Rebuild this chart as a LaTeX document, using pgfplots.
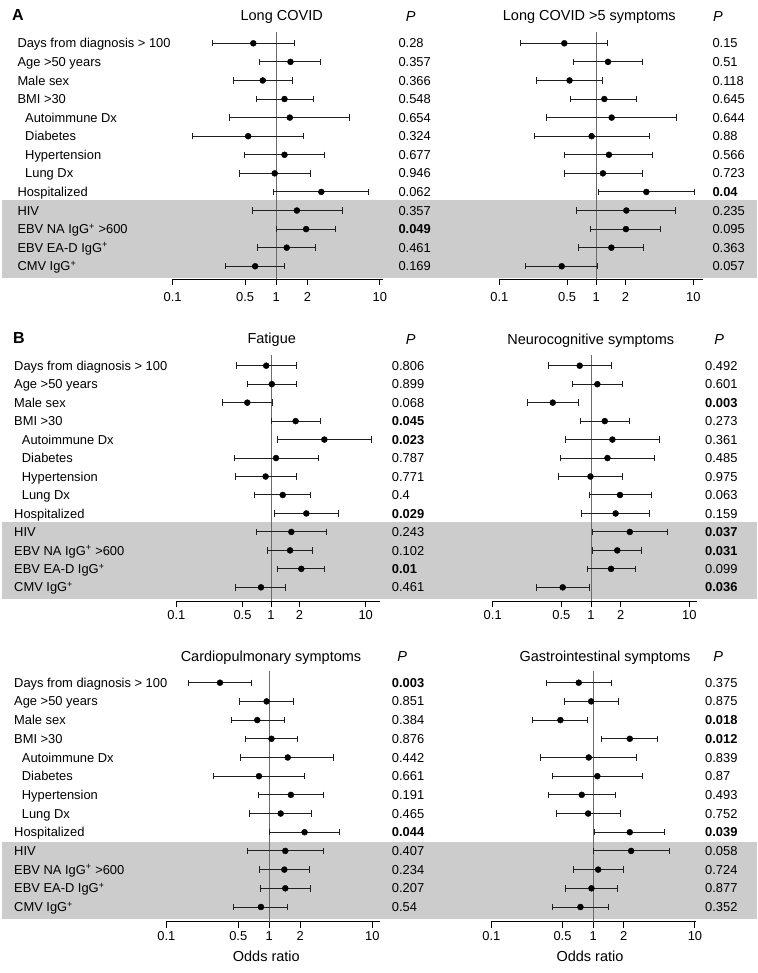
\documentclass[border=0pt]{standalone}
\usepackage{pgfplots}
\pgfplotsset{compat=1.18}
\usepackage{pgfplotstable}
\usepackage{fontspec}
\setmainfont{Liberation Sans}
\newcommand\lbl{\fontsize{12.9}{15}\selectfont}
\newcommand\ttl{\fontsize{14.5}{17}\selectfont}
\definecolor{band}{gray}{0.8}
\definecolor{refl}{gray}{0.42}
\definecolor{ebar}{gray}{0.12}

% row  odds ratio  lower CI  upper CI
\pgfplotstableread{
row or lo hi
1 0.60 0.244 1.49
2 1.37 0.69 2.70
3 0.74 0.386 1.42
4 1.20 0.64 2.27
5 1.35 0.355 5.1
6 0.535 0.156 1.83
7 1.20 0.497 2.92
8 0.965 0.44 2.12
9 2.72 0.935 7.82
10 1.58 0.585 4.31
11 1.94 1.0 3.77
12 1.26 0.66 2.41
13 0.625 0.325 1.21
}\tLC
\pgfplotstableread{
row or lo hi
1 0.468 0.167 1.32
2 1.32 0.58 3.0
3 0.53 0.243 1.16
4 1.21 0.548 2.6
5 1.44 0.303 6.79
6 0.895 0.231 3.52
7 1.35 0.475 3.81
8 1.17 0.472 2.96
9 3.28 1.05 10.2
10 2.04 0.63 6.63
11 2.02 0.88 4.64
12 1.43 0.658 3.1
13 0.44 0.188 1.02
}\tLCfive
\pgfplotstableread{
row or lo hi
1 0.89 0.43 1.88
2 1.02 0.566 1.84
3 0.562 0.308 1.03
4 1.82 1.01 3.32
5 3.66 1.17 11.4
6 1.13 0.41 3.18
7 0.877 0.423 1.84
8 1.33 0.667 2.64
9 2.36 1.09 5.14
10 1.64 0.695 3.84
11 1.59 0.914 2.75
12 2.09 1.17 3.68
13 0.784 0.423 1.44
}\tFat
\pgfplotstableread{
row or lo hi
1 0.767 0.371 1.6
2 1.16 0.646 2.1
3 0.408 0.225 0.738
4 1.38 0.773 2.48
5 1.65 0.553 4.96
6 1.47 0.492 4.38
7 0.987 0.469 2.07
8 1.97 0.962 4.11
9 1.78 0.791 3.98
10 2.48 1.04 5.93
11 1.85 1.04 3.28
12 1.6 0.918 2.83
13 0.515 0.282 0.954
}\tNeu
\pgfplotstableread{
row or lo hi
1 0.332 0.164 0.679
2 0.942 0.519 1.72
3 0.764 0.425 1.39
4 1.05 0.581 1.90
5 1.51 0.531 4.18
6 0.794 0.286 2.19
7 1.62 0.794 3.34
8 1.29 0.649 2.58
9 2.2 1.0 4.78
10 1.43 0.611 3.34
11 1.4 0.805 2.45
12 1.43 0.824 2.54
13 0.83 0.451 1.51
}\tCar
\pgfplotstableread{
row or lo hi
1 0.722 0.348 1.5
2 0.956 0.519 1.77
3 0.477 0.255 0.885
4 2.29 1.21 4.28
5 0.905 0.306 2.68
6 1.10 0.396 3.07
7 0.773 0.364 1.64
8 0.893 0.433 1.85
9 2.29 1.04 4.98
10 2.36 1.0 5.61
11 1.12 0.636 1.99
12 0.962 0.535 1.75
13 0.75 0.398 1.41
}\tGI

\newcommand\rowlabels[3]{% #1 x start, #2 y of first row, #3 row spacing
  \foreach \lab/\ind [count=\i from 0] in {Days from diagnosis > 100/0, Age >50 years/0, Male sex/0, BMI >30/0, Autoimmune Dx/1, Diabetes/1, Hypertension/1, Lung Dx/1, Hospitalized/0, HIV/0, EBV NA IgG\textsuperscript{+} >600/0, EBV EA-D IgG\textsuperscript{+}/0, CMV IgG\textsuperscript{+}/0}{
    \pgfmathsetmacro\yy{#2+#3*\i+4.6}
    \pgfmathsetmacro\xx{#1+\ind*7.7}
    \node[anchor=base west, inner sep=0pt, font=\lbl] at (\xx pt,-\yy pt) {\lab};
  }}
\newcommand\pcol[4]{% #1 x, #2 y first, #3 spacing, #4 list
  \foreach \p [count=\i from 0] in {#4}{
    \pgfmathsetmacro\yy{#2+#3*\i+4.6}
    \node[anchor=base west, inner sep=0pt, font=\lbl] at (#1pt,-\yy pt) {\p};
  }}

\pgfplotsset{forest/.style={
  scale only axis, anchor=south west, clip=false,
  xmin=-1,
  axis x line*=bottom, axis y line=none, ytick=\empty,
  xtick={-1,-0.30103,0,0.30103,1}, xticklabels={0.1,0.5,1,2,10},
  tick align=outside, major tick length=6pt,
  x axis line style={line width=1pt, black},
  every tick/.style={black, line width=1pt},
  xticklabel style={font=\lbl},
}}
\newcommand\forest[1]{%
  \addplot[only marks, mark=*, mark size=3pt, black,
    error bars/.cd, x dir=both, x explicit,
    error mark=|,
    error bar style={line width=1pt, ebar},
    error mark options={ebar, line width=1pt, mark size=3.2pt}]
    table[x expr={log10(\thisrow{or})}, y expr={-\thisrow{row}},
      x error minus expr={log10(\thisrow{or})-log10(\thisrow{lo})},
      x error plus expr={log10(\thisrow{hi})-log10(\thisrow{or})}] {#1};}

\begin{document}
\begin{tikzpicture}
\path[use as bounding box] (0pt,0pt) rectangle (757pt,-973pt);
% bands
\fill[band] (2pt,-200pt) rectangle (757pt,-277.7pt);
\fill[band] (2pt,-522pt) rectangle (757pt,-598.7pt);
\fill[band] (2pt,-841.7pt) rectangle (757pt,-919.3pt);
% panel letters and titles
\node[font=\fontsize{16}{18}\selectfont\bfseries, inner sep=0pt] at (18pt,-15.5pt) {A};
\node[font=\fontsize{16}{18}\selectfont\bfseries, inner sep=0pt] at (19pt,-338pt) {B};
\node[font=\ttl, anchor=base, inner sep=0pt] at (281.7pt,-20.9pt) {Long COVID};
\node[font=\ttl, anchor=base, inner sep=0pt] at (589.3pt,-20.9pt) {Long COVID >5 symptoms};
\node[font=\ttl\itshape, anchor=base, inner sep=0pt] at (410.7pt,-21.2pt) {P};
\node[font=\ttl\itshape, anchor=base, inner sep=0pt] at (718pt,-21.2pt) {P};
\node[font=\ttl, anchor=base, inner sep=0pt] at (271.7pt,-343.2pt) {Fatigue};
\node[font=\ttl, anchor=base, inner sep=0pt] at (590.7pt,-344.2pt) {Neurocognitive symptoms};
\node[font=\ttl\itshape, anchor=base, inner sep=0pt] at (410.7pt,-344.2pt) {P};
\node[font=\ttl\itshape, anchor=base, inner sep=0pt] at (719.3pt,-344.2pt) {P};
\node[font=\ttl, anchor=base, inner sep=0pt] at (271pt,-661.2pt) {Cardiopulmonary symptoms};
\node[font=\ttl, anchor=base, inner sep=0pt] at (605pt,-661.2pt) {Gastrointestinal symptoms};
\node[font=\ttl\itshape, anchor=base, inner sep=0pt] at (402.3pt,-661.2pt) {P};
\node[font=\ttl\itshape, anchor=base, inner sep=0pt] at (718.3pt,-661.2pt) {P};
\node[font=\ttl, anchor=base, inner sep=0pt] at (266.3pt,-961.9pt) {Odds ratio};
\node[font=\ttl, anchor=base, inner sep=0pt] at (590pt,-961.9pt) {Odds ratio};
% row labels
\rowlabels{17.3}{43.3}{18.58}
\rowlabels{14}{365.7}{18.47}
\rowlabels{14}{682.7}{18.69}
% P values
\pcol{398.3}{43.3}{18.58}{0.28,0.357,0.366,0.548,0.654,0.324,0.677,0.946,0.062,0.357,\textbf{0.049},0.461,0.169}
\pcol{712.3}{43.3}{18.58}{0.15,0.51,0.118,0.645,0.644,0.88,0.566,0.723,\textbf{0.04},0.235,0.095,0.363,0.057}
\pcol{391.7}{365.7}{18.47}{0.806,0.899,0.068,\textbf{0.045},\textbf{0.023},0.787,0.771,0.4,\textbf{0.029},0.243,0.102,\textbf{0.01},0.461}
\pcol{705}{365.7}{18.47}{0.492,0.601,\textbf{0.003},0.273,0.361,0.485,0.975,0.063,0.159,\textbf{0.037},\textbf{0.031},0.099,\textbf{0.036}}
\pcol{391.7}{682.7}{18.69}{\textbf{0.003},0.851,0.384,0.876,0.442,0.661,0.191,0.465,\textbf{0.044},0.407,0.234,0.207,0.54}
\pcol{705}{682.7}{18.69}{0.375,0.875,\textbf{0.018},\textbf{0.012},0.839,0.87,0.493,0.752,\textbf{0.039},0.058,0.724,0.877,0.352}

% Long COVID
\begin{axis}[forest, at={(172.7pt,-279.3pt)}, width=210.3pt, height=247.6pt, xmax=1.03, ymin=-13.702, ymax=-0.376, xticklabel style={yshift=-4pt}]
\addplot[refl, line width=1pt] coordinates {(0,-0.376) (0,-13.702)};
\forest{\tLC}
\end{axis}
% Long COVID >5
\begin{axis}[forest, at={(499.3pt,-279.3pt)}, width=203.4pt, height=247.6pt, xmax=1.097, ymin=-13.702, ymax=-0.376, xticklabel style={yshift=-4pt}]
\addplot[refl, line width=1pt] coordinates {(0,-0.376) (0,-13.702)};
\forest{\tLCfive}
\end{axis}
% Fatigue
\begin{axis}[forest, at={(176.3pt,-601.3pt)}, width=203.7pt, height=246.3pt, xmax=1.151, ymin=-13.756, ymax=-0.421]
\addplot[refl, line width=1pt] coordinates {(0,-0.421) (0,-13.756)};
\forest{\tFat}
\end{axis}
% Neurocognitive
\begin{axis}[forest, at={(492.7pt,-601.3pt)}, width=204.6pt, height=246.3pt, xmax=1.081, ymin=-13.756, ymax=-0.421]
\addplot[refl, line width=1pt] coordinates {(0,-0.421) (0,-13.756)};
\forest{\tNeu}
\end{axis}
% Cardiopulmonary
\begin{axis}[forest, at={(166.3pt,-921.7pt)}, width=213.7pt, height=251pt, xmax=1.075, ymin=-13.787, ymax=-0.358]
\addplot[refl, line width=1pt] coordinates {(0,-0.358) (0,-13.787)};
\forest{\tCar}
\end{axis}
% Gastrointestinal
\begin{axis}[forest, at={(491.3pt,-921.7pt)}, width=204.4pt, height=251pt, xmax=1.007, ymin=-13.787, ymax=-0.358]
\addplot[refl, line width=1pt] coordinates {(0,-0.358) (0,-13.787)};
\forest{\tGI}
\end{axis}
\end{tikzpicture}
\end{document}
